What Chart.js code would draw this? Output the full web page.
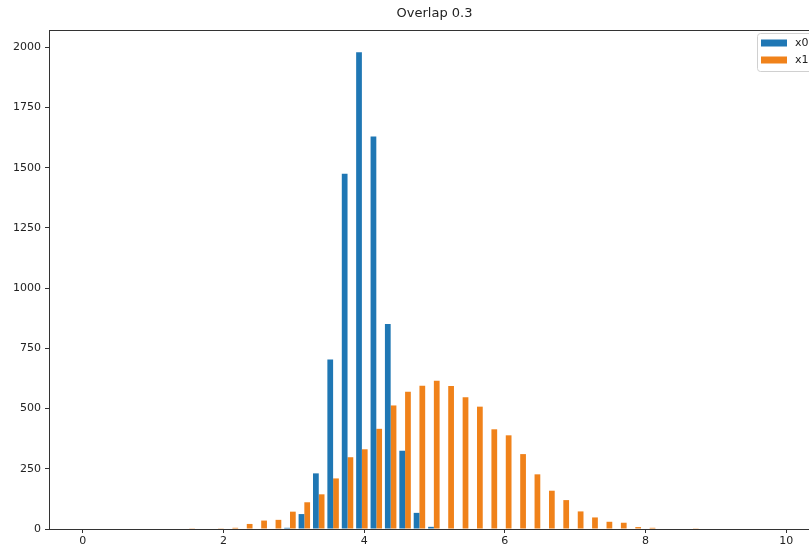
<!DOCTYPE html>
<html>
<head>
<meta charset="utf-8">
<script src="https://cdn.jsdelivr.net/npm/chart.js@4/dist/chart.umd.min.js"></script>
<style>
  html, body { margin: 0; padding: 0; background: #fff; overflow: hidden; }
  #wrap { width: 809px; height: 550px; overflow: hidden; }
</style>
</head>
<body>
<div id="wrap"><canvas id="chart" width="830" height="550"></canvas></div>
<script>
// histogram bin centres (shared by both series)
const binCenters = [1.514, 1.718, 1.923, 2.128, 2.332, 2.537, 2.741, 2.946, 3.150, 3.355,
    3.559, 3.764, 3.968, 4.173, 4.377, 4.582, 4.786, 4.991, 5.195, 5.400,
    5.604, 5.809, 6.013, 6.218, 6.422, 6.627, 6.831, 7.036, 7.240, 7.445,
    7.649, 7.854, 8.058, 8.263, 8.467, 8.672];
const x0Counts = [0, 0, 0, 0, 0, 0, 0, 5, 62, 231,
    704, 1475, 1980, 1630, 851, 325, 67, 9, 0, 0,
    0, 0, 0, 0, 0, 0, 0, 0, 0, 0,
    0, 0, 0, 0, 0, 0];
const x1Counts = [3, 0, 3, 5, 21, 35, 38, 72, 111, 144,
    210, 298, 331, 416, 513, 570, 595, 616, 594, 547,
    508, 414, 389, 311, 227, 159, 120, 73, 48, 30,
    26, 8, 5, 0, 0, 3];
const seriesNames = ['x0', 'x1'];
const xTicks = [0, 2, 4, 6, 8, 10];
const yTicks = [0, 250, 500, 750, 1000, 1250, 1500, 1750, 2000];
const chartTitle = 'Overlap 0.3';

const BLUE = '#1f77b4';
const ORANGE = '#f0821a';
const FONT = "'DejaVu Sans', sans-serif";

// frame round the plot area (matplotlib spines)
const framePlugin = {
    id: 'frame',
    afterDraw(chart) {
        const { ctx, chartArea: a } = chart;
        ctx.save();
        ctx.strokeStyle = '#333';
        ctx.lineWidth = 1;
        ctx.strokeRect(Math.round(a.left) + 0.5, Math.round(a.top) + 0.5,
            Math.round(a.right - a.left), Math.round(a.bottom - a.top));
        ctx.restore();
    }
};

// legend drawn inside the axes, upper right
const innerLegend = {
    id: 'innerLegend',
    afterDraw(chart) {
        const { ctx, chartArea: a } = chart;
        const boxW = 58, boxH = 38;
        const bx = a.right - 5 - boxW, by = a.top + 3;
        ctx.save();
        ctx.fillStyle = 'rgba(255,255,255,0.85)';
        ctx.strokeStyle = '#d0d0d0';
        ctx.lineWidth = 1;
        ctx.beginPath();
        ctx.roundRect(bx + 0.5, by + 0.5, boxW, boxH, 3);
        ctx.fill();
        ctx.stroke();
        ctx.font = '11px ' + FONT;
        ctx.textBaseline = 'middle';
        chart.data.datasets.forEach((ds, i) => {
            const cy = by + 10 + i * 17;
            ctx.fillStyle = ds.backgroundColor;
            ctx.fillRect(bx + 4, cy - 3.5, 26, 7);
            ctx.fillStyle = '#222';
            ctx.fillText(ds.label, bx + 38, cy);
        });
        ctx.restore();
    }
};

const ctx = document.getElementById('chart').getContext('2d');
new Chart(ctx, {
    type: 'bar',
    data: {
        datasets: [
            {
                label: seriesNames[0],
                data: binCenters.map((c, i) => ({ x: c, y: x0Counts[i] })),
                backgroundColor: BLUE,
                borderWidth: 0
            },
            {
                label: seriesNames[1],
                data: binCenters.map((c, i) => ({ x: c, y: x1Counts[i] })),
                backgroundColor: ORANGE,
                borderWidth: 0
            }
        ]
    },
    options: {
        responsive: false,
        animation: false,
        devicePixelRatio: 1,
        layout: { padding: { left: 0, right: 10, top: 0, bottom: 0 } },
        datasets: { bar: { categoryPercentage: 0.8, barPercentage: 1.0 } },
        plugins: {
            legend: { display: false },
            tooltip: { enabled: false },
            title: {
                display: true,
                fullSize: false,
                text: chartTitle,
                color: '#222',
                font: { family: FONT, size: 13, weight: 'normal' },
                padding: { top: 6, bottom: 8.4 }
            }
        },
        scales: {
            x: {
                type: 'linear',
                min: -0.479,
                max: 10.479,
                offset: false,
                afterBuildTicks: s => { s.ticks = xTicks.map(v => ({ value: v })); },
                afterFit: s => { s.height = 21; },
                grid: { display: true, offset: false, drawOnChartArea: false, drawTicks: true, tickLength: 4, tickColor: '#333' },
                border: { display: false },
                ticks: { color: '#222', padding: 2, maxRotation: 0, autoSkip: false,
                    callback: v => String(v), font: { family: FONT, size: 11 } }
            },
            y: {
                min: 0,
                max: 2072,
                afterBuildTicks: s => { s.ticks = yTicks.map(v => ({ value: v })); },
                afterFit: s => { s.width = 49; },
                grid: { display: true, offset: false, drawOnChartArea: false, drawTicks: true, tickLength: 4, tickColor: '#333' },
                border: { display: false },
                ticks: { color: '#222', padding: 4, autoSkip: false,
                    callback: v => String(v), font: { family: FONT, size: 11 } }
            }
        }
    },
    plugins: [framePlugin, innerLegend]
});
</script>
</body>
</html>
